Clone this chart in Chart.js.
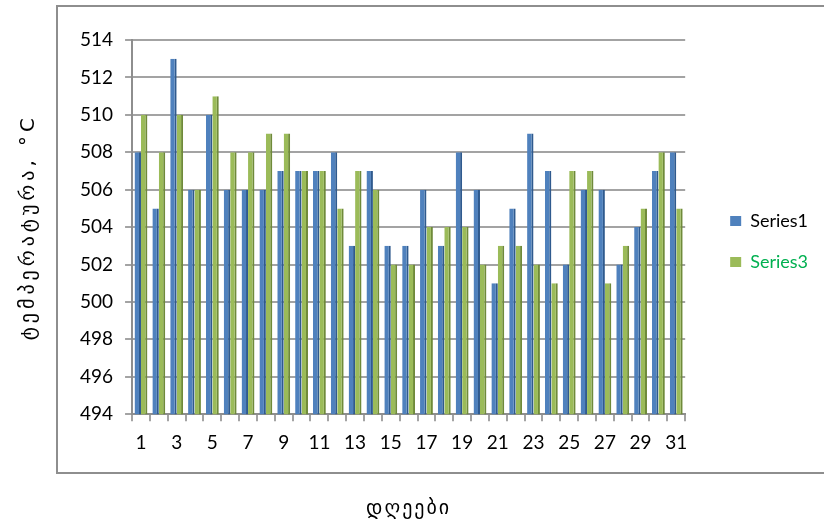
<!DOCTYPE html>
<html>
<head>
<meta charset="utf-8">
<script src="https://cdn.jsdelivr.net/npm/chart.js@4.4.1/dist/chart.umd.min.js"></script>
<style>
  html, body { margin: 0; padding: 0; background: #fff; overflow: hidden; }
  #wrap { position: relative; width: 824px; height: 523px; }
  #frame {
    position: absolute; left: 56px; top: 5px; width: 800px; height: 465px;
    border: 2px solid #8e8e8e;
  }
  #chart { position: absolute; left: 0; top: 0; }
</style>
</head>
<body>
<div id="wrap">
  <div id="frame"></div>
  <canvas id="chart" width="824" height="523"></canvas>
</div>
<script>
  // days 1..31
  const days = Array.from({ length: 31 }, (_, i) => String(i + 1));
  const series1 = [508, 505, 513, 506, 510, 506, 506, 506, 507, 507, 507, 508, 503, 507, 503, 503,
                   506, 503, 508, 506, 501, 505, 509, 507, 502, 506, 506, 502, 504, 507, 508];
  const series3 = [510, 508, 510, 506, 511, 508, 508, 509, 509, 507, 507, 505, 507, 506, 502, 502,
                   504, 504, 504, 502, 503, 503, 502, 501, 507, 507, 501, 503, 505, 508, 505];
  const yMin = 494;
  const yMax = 514;
  const yStep = 2;

  const tickFont = { family: 'Lato', size: 19 };
  const geoFont = { family: 'DejaVu Sans', size: 20 };
  const gridGrey = '#a3a3a3';

  // Sylfaen-like spacing for the Georgian axis titles
  function spacedTitle(spacing) {
    return (s) => {
      if (s._spaced) return;
      const orig = s.drawTitle.bind(s);
      s.drawTitle = function () {
        this.ctx.save();
        this.ctx.letterSpacing = spacing;
        orig();
        this.ctx.restore();
      };
      s._spaced = true;
    };
  }

  new Chart(document.getElementById('chart').getContext('2d'), {
    type: 'bar',
    data: {
      labels: days,
      datasets: [
        {
          label: 'Series1', data: series1,
          backgroundColor: '#4f81bd', borderColor: '#2f5a8e',
          borderWidth: { top: 0, right: 2, bottom: 0, left: 0 }, borderSkipped: false,
          categoryPercentage: 0.72, barPercentage: 1
        },
        {
          label: 'Series3', data: series3,
          backgroundColor: '#9bbb59', borderColor: '#6f8a3a',
          borderWidth: { top: 0, right: 2, bottom: 0, left: 0 }, borderSkipped: false,
          categoryPercentage: 0.72, barPercentage: 1
        }
      ]
    },
    options: {
      responsive: false,
      animation: false,
      layout: { padding: { left: 17, top: 40, bottom: 2, right: 6 } },
      plugins: {
        tooltip: { enabled: false },
        legend: {
          position: 'right',
          align: 'start',
          title: { display: true, text: ' ', font: { size: 1, lineHeight: 1 }, padding: { top: 148, bottom: 0 } },
          labels: {
            boxWidth: 11, boxHeight: 10, padding: 23, font: { family: 'Lato', size: 18 },
            generateLabels: (chart) => chart.data.datasets.map((ds, i) => ({
              text: ds.label,
              fillStyle: ds.backgroundColor,
              strokeStyle: ds.backgroundColor,
              lineWidth: 0,
              fontColor: i === 0 ? '#000000' : '#00b050',
              datasetIndex: i
            }))
          }
        }
      },
      scales: {
        x: {
          grid: { offset: true, drawOnChartArea: false, drawTicks: true, tickLength: 7, color: gridGrey, lineWidth: 2 },
          border: { color: '#8e8e8e', width: 2 },
          ticks: {
            color: '#000', font: tickFont, padding: 10, autoSkip: false, maxRotation: 0,
            callback: (v, i) => (i % 2 === 0 ? days[i] : '')
          },
          title: { display: true, text: 'დღეები', color: '#000', font: geoFont, padding: { top: 33, bottom: 0 } },
          afterUpdate: spacedTitle('2px')
        },
        y: {
          min: yMin, max: yMax,
          grid: { color: gridGrey, lineWidth: 2, tickLength: 7 },
          border: { color: '#8e8e8e', width: 2 },
          ticks: { stepSize: yStep, color: '#000', font: tickFont, padding: 12 },
          title: { display: true, text: 'ტემპერატურა, °C', color: '#000', font: geoFont, padding: { top: 0, bottom: 27 } },
          afterUpdate: spacedTitle('4px')
        },
        gap: {
          // empty right axis: keeps room between the plot and the legend
          type: 'linear', position: 'right', display: true,
          grid: { display: false }, border: { display: false }, ticks: { display: false },
          afterFit: (s) => { s.width = 22; }
        }
      }
    }
  });
</script>
</body>
</html>
